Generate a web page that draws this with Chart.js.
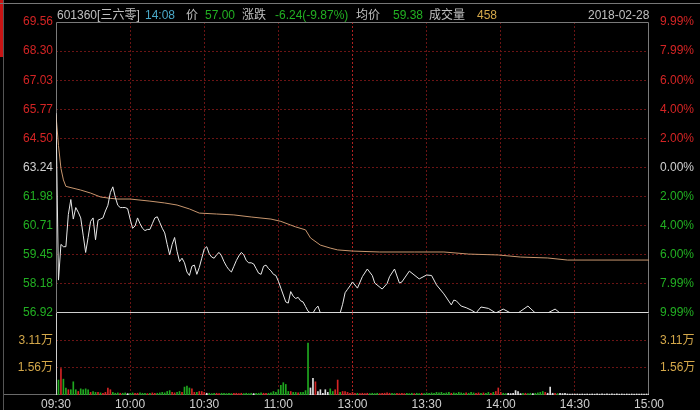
<!DOCTYPE html>
<html>
<head>
<meta charset="utf-8">
<script src="https://cdn.jsdelivr.net/npm/chart.js@4.4.1/dist/chart.umd.min.js"></script>
<style>
  html, body { margin: 0; padding: 0; background: #000; }
  #wrap { position: relative; width: 700px; height: 410px; overflow: hidden; background: #000;
          font-family: "Liberation Sans", "Noto Sans CJK SC", sans-serif; font-size: 12px; color: #c0c0c0; }
  canvas { position: absolute; left: 0; top: 0; }
  .hdr { position: absolute; top: 8px; line-height: 14px; white-space: nowrap; }
  .g { color: #22b022; }
  .t { color: #4aa8c8; }
  .y { color: #d4a84a; }
  #redbar { position: absolute; left: 0; top: 0; width: 3px; height: 57px; background: #c81414; }
  #edge { position: absolute; left: 3px; top: 0; width: 1px; height: 410px; background: #555; }
  #topline { position: absolute; left: 0; top: 3px; width: 700px; height: 1px; background: #777; }
</style>
</head>
<body>
<div id="wrap">
  <div id="redbar"></div>
  <div id="edge"></div>
  <div id="topline"></div>
  <canvas id="priceChart" width="700" height="410"></canvas>
  <canvas id="volChart" width="700" height="410"></canvas>
  <span class="hdr" style="left:57px">601360[三六零]</span>
  <span class="hdr t" style="left:145px">14:08</span>
  <span class="hdr" style="left:186px">价</span>
  <span class="hdr g" style="left:205px">57.00</span>
  <span class="hdr" style="left:242px">涨跌</span>
  <span class="hdr g" style="left:275px">-6.24(-9.87%)</span>
  <span class="hdr" style="left:356px">均价</span>
  <span class="hdr g" style="left:393px">59.38</span>
  <span class="hdr" style="left:429px">成交量</span>
  <span class="hdr y" style="left:477px">458</span>
  <span class="hdr" style="left:588px">2018-02-28</span>
</div>
<script>
// minutes after 09:30 (lunch break removed: 120 = 11:30 / 13:00)
const timeTicks = [0, 30, 60, 90, 120, 150, 180, 210, 240];
const timeLabels = ['09:30', '10:00', '10:30', '11:00', '13:00', '13:30', '14:00', '14:30', '15:00'];

const prevClose = 63.24;
const priceTicks = [56.92, 58.18, 59.45, 60.71, 61.98, 63.24, 64.50, 65.77, 67.03, 68.30, 69.56];
const pctLabels = ['9.99%', '7.99%', '6.00%', '4.00%', '2.00%', '0.00%', '2.00%', '4.00%', '6.00%', '7.99%', '9.99%'];
const volTicks = [1.56, 3.11];

// price line (white)
const priceTimes = [
  0, 1, 2, 3, 4, 5, 6, 7, 8, 9,
  10, 11, 12, 13, 14, 15, 16, 17, 18, 19,
  20, 21, 22, 23, 24, 25, 26, 27, 28, 29,
  30, 31, 32, 33, 34, 35, 36, 37, 38, 39,
  40, 41, 42, 43, 44, 45, 46, 47, 48, 49,
  50, 51, 52, 53, 54, 55, 56, 57, 58, 59,
  60, 61, 62, 63, 64, 65, 66, 67, 68, 69,
  70, 71, 72, 73, 74, 75, 76, 77, 78, 79,
  80, 81, 82, 83, 84, 85, 86, 87, 88, 89,
  90, 91, 92, 93, 94, 95, 96, 97, 98, 99,
  100, 101, 102, 103, 104, 105, 106, 107, 108, 109,
  110, 111, 112, 113, 114, 115, 116, 117, 118, 119, 120,
  122, 124, 126, 128, 129, 132, 134, 135, 137, 139,
  140, 143, 147, 150, 152, 154, 157, 160, 161, 162,
  164, 166, 168, 170, 172, 175, 178, 181, 184, 187,
  191, 194, 199, 202, 204, 240
];
const prices = [
  65.60, 58.35, 59.90, 59.80, 59.80, 61.20, 61.85, 61.00, 61.50, 61.30,
  61.05, 60.30, 59.55, 60.20, 60.90, 61.05, 60.10, 60.95, 61.00, 61.05,
  61.35, 61.60, 62.15, 62.40, 61.95, 61.60, 61.50, 61.50, 61.50, 61.45,
  61.00, 60.60, 60.70, 61.05, 60.80, 60.60, 60.50, 60.55, 60.55, 60.80,
  61.05, 61.10, 60.85, 60.60, 60.40, 59.90, 59.45, 59.90, 60.20, 59.60,
  59.15, 59.30, 59.10, 58.70, 58.55, 58.95, 59.00, 58.60, 58.90, 59.30,
  59.70, 59.80, 59.50, 59.35, 59.30, 59.45, 59.55, 59.40, 59.15, 58.95,
  58.80, 58.70, 58.95, 59.20, 59.40, 59.55, 59.45, 59.20, 59.10, 59.10,
  59.05, 58.85, 58.65, 58.60, 58.95, 59.00, 58.85, 58.75, 58.60, 58.55,
  58.30, 58.00, 57.70, 57.40, 57.35, 57.85, 57.65, 57.55, 57.60, 57.45,
  57.40, 57.20, 57.00, 56.92, 56.92, 57.10, 57.22, 56.92, 56.92, 56.92,
  56.92, 56.92, 56.92, 56.92, 56.92, 56.92, 57.30, 57.80, 57.95, 58.10, 58.27,
  58.00, 58.50, 58.83, 58.55, 58.22, 57.96, 58.20, 58.50, 58.83, 58.22,
  58.27, 58.74, 58.40, 58.57, 58.55, 58.14, 57.75, 57.27, 57.48, 57.45,
  57.22, 57.15, 57.05, 56.92, 57.18, 57.12, 56.92, 57.09, 56.92, 56.92,
  57.22, 56.92, 56.92, 57.09, 56.92, 56.92
];

// average price line (orange)
const avgTimes = [0, 1, 2, 3, 4, 10, 14, 18, 22, 25, 30, 38, 44, 49, 54, 58, 65, 72, 79, 87,
  91, 95, 97, 101, 103, 107, 111, 114, 120, 131, 145, 157, 167, 179, 188, 199, 207, 240];
const avgPrices = [65.52, 64.20, 63.20, 62.70, 62.42, 62.26, 62.13, 61.96, 61.90, 61.87,
  61.87, 61.78, 61.70, 61.61, 61.44, 61.26, 61.22, 61.18, 61.09, 61.00,
  60.90, 60.74, 60.66, 60.53, 60.18, 59.87, 59.74, 59.66, 59.61, 59.57,
  59.57, 59.57, 59.48, 59.44, 59.35, 59.31, 59.22, 59.22];

// volume per minute, in 万 (minute index 0..240)
const volumes = [
  5.20, 0.85, 1.50, 0.90, 0.40, 0.30, 0.30, 0.75, 0.30, 0.20,
  0.35, 0.30, 0.35, 0.30, 0.15, 0.20, 0.15, 0.15, 0.12, 0.10,
  0.15, 0.40, 0.30, 0.15, 0.10, 0.12, 0.10, 0.10, 0.12, 0.08,
  0.10, 0.12, 0.10, 0.10, 0.12, 0.10, 0.10, 0.08, 0.10, 0.12,
  0.10, 0.10, 0.12, 0.15, 0.12, 0.20, 0.25, 0.15, 0.12, 0.15,
  0.20, 0.15, 0.45, 0.50, 0.40, 0.35, 0.15, 0.15, 0.20, 0.20,
  0.15, 0.10, 0.10, 0.08, 0.10, 0.10, 0.08, 0.10, 0.10, 0.08,
  0.10, 0.08, 0.10, 0.10, 0.08, 0.10, 0.08, 0.10, 0.08, 0.10,
  0.08, 0.10, 0.10, 0.12, 0.10, 0.10, 0.10, 0.12, 0.20, 0.15,
  0.30, 0.55, 0.70, 0.60, 0.20, 0.20, 0.15, 0.15, 0.12, 0.15,
  0.15, 0.25, 2.95, 0.40, 0.95, 0.75, 0.20, 0.30, 0.10, 0.30,
  0.15, 0.35, 0.20, 0.30, 0.85, 0.15, 0.20, 0.20, 0.15, 0.10, 0.15,
  0.10, 0.10, 0.08, 0.10, 0.08, 0.10, 0.08, 0.10, 0.08, 0.10,
  0.08, 0.10, 0.10, 0.12, 0.10, 0.10, 0.08, 0.10, 0.08, 0.10,
  0.08, 0.10, 0.08, 0.10, 0.08, 0.10, 0.08, 0.10, 0.08, 0.12,
  0.10, 0.12, 0.10, 0.15, 0.12, 0.15, 0.10, 0.12, 0.15, 0.10,
  0.12, 0.10, 0.15, 0.12, 0.10, 0.12, 0.10, 0.15, 0.12, 0.10,
  0.12, 0.10, 0.12, 0.10, 0.15, 0.10, 0.15, 0.20, 0.40, 0.15,
  0.10, 0.08, 0.10, 0.08, 0.10, 0.25, 0.20, 0.08, 0.10, 0.10,
  0.08, 0.10, 0.08, 0.10, 0.12, 0.15, 0.20, 0.15, 0.10, 0.45,
  0.10, 0.10, 0.08, 0.10, 0.08, 0.10, 0.06, 0.05, 0.06, 0.05,
  0.06, 0.05, 0.06, 0.05, 0.06, 0.05, 0.06, 0.05, 0.06, 0.05,
  0.06, 0.05, 0.06, 0.05, 0.06, 0.05, 0.06, 0.05, 0.06, 0.05,
  0.06, 0.05, 0.06, 0.05, 0.06, 0.05, 0.06, 0.05, 0.06, 0.05
];
// minute direction: u = up, d = down, f = flat
const volDir = (
  'fduddudddu' + 'dddduddudu' + 'uuuddduddf' + 'dduudddudu' + 'udddddduud' +
  'duddduuduu' + 'ufddduuddd' + 'dduuuudddd' + 'fddduudddd' + 'ddddduddud' +
  'dddffuffff' + 'fdduuduuuuu' +
  'uduuuudddd' + 'uuuuudduuu' + 'uddduddudd' + 'dddddddddu' + 'dddddudddu' +
  'ududduduuu' + 'ddffffffdu' + 'ddfdddduff' + 'fudfffffff' +
  'ffffffffff' + 'ffffffffff' + 'ffffffffff'
).split('');

const FONT = '"Liberation Sans", "Noto Sans CJK SC", sans-serif';
Chart.defaults.font.family = FONT;
Chart.defaults.font.size = 12;

const RED = '#d42424';
const GREEN = '#22b022';
const WHITE = '#d0d0d0';
const GOLD = '#d4a84a';
const GRID = '#6a1414';
const GRID_MID = '#b02020';
const NONE = 'rgba(0,0,0,0)';
const dirColor = { u: '#d42424', d: '#1fa81f', f: '#e0e0e0' };

function priceColor(v) {
  if (Math.abs(v - prevClose) < 0.001) return WHITE;
  return v > prevClose ? RED : GREEN;
}

// plain frame lines around the plot panels
const framePlugin = {
  id: 'frame',
  beforeDatasetsDraw(chart, args, opts) {
    const { ctx, chartArea: a } = chart;
    const l = Math.round(a.left) + 0.5, r = Math.round(a.right) - 0.5;
    const t = Math.round(a.top) + 0.5, b = Math.round(a.bottom) - 0.5;
    ctx.save();
    ctx.lineWidth = 1;
    ctx.strokeStyle = opts.color;
    ctx.beginPath();
    ctx.moveTo(l, t); ctx.lineTo(l, b);
    ctx.moveTo(r, t); ctx.lineTo(r, b);
    if (opts.top) { ctx.moveTo(l, t); ctx.lineTo(r, t); }
    ctx.stroke();
    if (opts.bottomColor) {
      ctx.strokeStyle = opts.bottomColor;
      ctx.beginPath();
      ctx.moveTo(opts.bottomFrom ?? l, b); ctx.lineTo(r, b);
      ctx.stroke();
    }
    ctx.restore();
  }
};

function xScale(showLabels) {
  return {
    type: 'linear', min: 0, max: 240, offset: false,
    afterBuildTicks: s => { s.ticks = timeTicks.map(v => ({ value: v })); },
    afterFit: s => { s.height = showLabels ? 15 : 0; },
    ticks: {
      display: showLabels, autoSkip: false, maxRotation: 0, padding: 2, color: WHITE,
      callback: (v, i) => timeLabels[i]
    },
    grid: {
      drawTicks: false, offset: false,
      color: c => {
        if (!c.tick || c.tick.value === 0 || c.tick.value === 240) return NONE;
        return c.tick.value === 120 ? GRID_MID : GRID;
      }
    },
    border: { display: false, dash: [2, 2] }
  };
}

new Chart(document.getElementById('priceChart'), {
  type: 'line',
  data: {
    datasets: [
      {
        label: '价格',
        data: priceTimes.map((t, i) => ({ x: t, y: prices[i] })),
        borderColor: '#e8e8e8', borderWidth: 1, pointRadius: 0, tension: 0, yAxisID: 'y'
      },
      {
        label: '均价',
        data: avgTimes.map((t, i) => ({ x: t, y: avgPrices[i] })),
        borderColor: '#c8966e', borderWidth: 1, pointRadius: 0, tension: 0, yAxisID: 'y'
      }
    ]
  },
  options: {
    responsive: false, animation: false,
    layout: { padding: { top: 22, bottom: 97, left: 0, right: 0 } },
    plugins: {
      legend: { display: false }, tooltip: { enabled: false },
      frame: { color: '#7a7a7a', top: true, bottomColor: '#cfcfcf' }
    },
    scales: {
      x: xScale(false),
      y: {
        position: 'left', min: priceTicks[0], max: priceTicks[priceTicks.length - 1],
        afterBuildTicks: s => { s.ticks = priceTicks.map(v => ({ value: v })); },
        afterFit: s => { s.width = 56; },
        ticks: { padding: 3, color: c => priceColor(c.tick ? c.tick.value : prevClose), callback: v => v.toFixed(2) },
        grid: {
          drawTicks: false,
          color: c => (!c.tick || c.index === 0 || c.index === priceTicks.length - 1) ? NONE : GRID
        },
        border: { display: false, dash: [2, 2] }
      },
      yPct: {
        position: 'right', min: priceTicks[0], max: priceTicks[priceTicks.length - 1],
        afterBuildTicks: s => { s.ticks = priceTicks.map(v => ({ value: v })); },
        afterFit: s => { s.width = 51; },
        ticks: {
          padding: 3, color: c => priceColor(c.tick ? c.tick.value : prevClose),
          callback: (v, i) => pctLabels[i]
        },
        grid: { display: false },
        border: { display: false }
      }
    }
  },
  plugins: [framePlugin]
});

new Chart(document.getElementById('volChart'), {
  type: 'bar',
  data: {
    datasets: [{
      label: '成交量',
      data: volumes.map((v, i) => ({ x: i, y: v })),
      backgroundColor: volumes.map((v, i) => dirColor[volDir[i] || 'f']),
      barThickness: 1,
      clip: 0
    }]
  },
  options: {
    responsive: false, animation: false,
    layout: { padding: { top: 313, bottom: 0, left: 0, right: 0 } },
    plugins: {
      legend: { display: false }, tooltip: { enabled: false },
      frame: { color: '#7a7a7a', top: false, bottomColor: '#6a6a6a', bottomFrom: 4 }
    },
    scales: {
      x: xScale(true),
      y: {
        position: 'left', min: 0, max: 4.66,
        afterBuildTicks: s => { s.ticks = volTicks.map(v => ({ value: v })); },
        afterFit: s => { s.width = 56; },
        ticks: { padding: 3, color: GOLD, callback: v => v.toFixed(2) + '万' },
        grid: { drawTicks: false, color: c => c.tick ? GRID : NONE },
        border: { display: false, dash: [2, 2] }
      },
      yR: {
        position: 'right', min: 0, max: 4.66,
        afterBuildTicks: s => { s.ticks = volTicks.map(v => ({ value: v })); },
        afterFit: s => { s.width = 51; },
        ticks: { padding: 3, color: GOLD, callback: v => v.toFixed(2) + '万' },
        grid: { display: false },
        border: { display: false }
      }
    }
  },
  plugins: [framePlugin]
});
</script>
</body>
</html>
